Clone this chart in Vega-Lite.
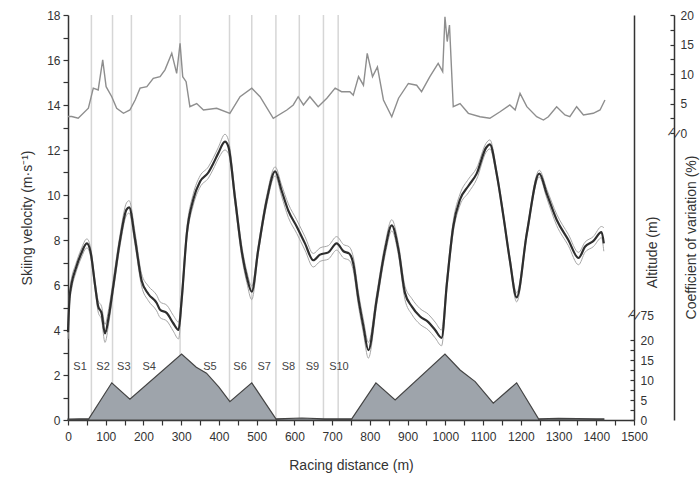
{
  "$schema": "https://vega.github.io/schema/vega-lite/v6.json",
  "autosize": {"type": "none"},
  "padding": {"left": 68, "top": 15, "right": 66, "bottom": 59},
  "width": 566,
  "height": 405,
  "background": "white",
  "config": {
    "view": {"stroke": null},
    "font": "Liberation Sans",
    "axis": {
      "grid": false,
      "domainColor": "#333333",
      "tickColor": "#333333",
      "labelColor": "#333333",
      "titleColor": "#333333",
      "labelFont": "Liberation Sans",
      "titleFont": "Liberation Sans",
      "labelFontSize": 12,
      "titleFontSize": 14,
      "titleFontWeight": "normal",
      "domainWidth": 1.5,
      "tickWidth": 1.2
    }
  },
  "datasets": {
    "velocity": [
      {"m": 0, "mean": 3.9, "upper": 4.2, "lower": 3.6},
      {"m": 4, "mean": 5.4, "upper": 5.7, "lower": 5.1},
      {"m": 10, "mean": 6.1, "upper": 6.35, "lower": 5.85},
      {"m": 20, "mean": 6.7, "upper": 6.9, "lower": 6.5},
      {"m": 35, "mean": 7.4, "upper": 7.6, "lower": 7.2},
      {"m": 50, "mean": 7.85, "upper": 8.05, "lower": 7.65},
      {"m": 60, "mean": 7.45, "upper": 7.65, "lower": 7.25},
      {"m": 72, "mean": 5.95, "upper": 6.15, "lower": 5.75},
      {"m": 80, "mean": 5.05, "upper": 5.3, "lower": 4.8},
      {"m": 89, "mean": 4.75, "upper": 5.05, "lower": 4.45},
      {"m": 98, "mean": 3.85, "upper": 4.25, "lower": 3.45},
      {"m": 108, "mean": 4.6, "upper": 4.95, "lower": 4.3},
      {"m": 120, "mean": 5.95, "upper": 6.25, "lower": 5.7},
      {"m": 138, "mean": 8.0, "upper": 8.25, "lower": 7.75},
      {"m": 155, "mean": 9.35, "upper": 9.65, "lower": 9.1},
      {"m": 162, "mean": 9.45, "upper": 9.75, "lower": 9.2},
      {"m": 178, "mean": 8.0, "upper": 8.3, "lower": 7.75},
      {"m": 195, "mean": 6.2, "upper": 6.5, "lower": 5.95},
      {"m": 213, "mean": 5.6, "upper": 5.95, "lower": 5.3},
      {"m": 235, "mean": 5.2, "upper": 5.55, "lower": 4.85},
      {"m": 244, "mean": 4.9, "upper": 5.25, "lower": 4.55},
      {"m": 262, "mean": 4.75, "upper": 5.1, "lower": 4.4},
      {"m": 279, "mean": 4.3, "upper": 4.65, "lower": 3.95},
      {"m": 293, "mean": 4.0, "upper": 4.35, "lower": 3.6},
      {"m": 301, "mean": 5.3, "upper": 5.6, "lower": 5.0},
      {"m": 315, "mean": 8.3, "upper": 8.55, "lower": 8.05},
      {"m": 332, "mean": 9.8, "upper": 10.05, "lower": 9.55},
      {"m": 350, "mean": 10.6, "upper": 10.85, "lower": 10.35},
      {"m": 372, "mean": 11.0, "upper": 11.25, "lower": 10.75},
      {"m": 385, "mean": 11.4, "upper": 11.65, "lower": 11.15},
      {"m": 398, "mean": 11.85, "upper": 12.1, "lower": 11.6},
      {"m": 416, "mean": 12.37, "upper": 12.7, "lower": 12.0},
      {"m": 425, "mean": 12.15, "upper": 12.45, "lower": 11.85},
      {"m": 443, "mean": 9.8, "upper": 10.05, "lower": 9.55},
      {"m": 460, "mean": 7.55, "upper": 7.8, "lower": 7.3},
      {"m": 474, "mean": 6.35, "upper": 6.6, "lower": 6.1},
      {"m": 487, "mean": 5.7, "upper": 5.95, "lower": 5.35},
      {"m": 504, "mean": 7.55, "upper": 7.75, "lower": 7.35},
      {"m": 527, "mean": 9.8, "upper": 10.0, "lower": 9.6},
      {"m": 549, "mean": 11.05, "upper": 11.25, "lower": 10.85},
      {"m": 566, "mean": 10.2, "upper": 10.45, "lower": 9.95},
      {"m": 584, "mean": 9.3, "upper": 9.6, "lower": 9.0},
      {"m": 606, "mean": 8.6, "upper": 8.9, "lower": 8.3},
      {"m": 628, "mean": 7.85, "upper": 8.15, "lower": 7.55},
      {"m": 650, "mean": 7.1, "upper": 7.4, "lower": 6.8},
      {"m": 668, "mean": 7.35, "upper": 7.65, "lower": 7.05},
      {"m": 690, "mean": 7.45, "upper": 7.75, "lower": 7.15},
      {"m": 712, "mean": 7.85, "upper": 8.15, "lower": 7.55},
      {"m": 730, "mean": 7.5, "upper": 7.8, "lower": 7.2},
      {"m": 745, "mean": 7.4, "upper": 7.7, "lower": 7.1},
      {"m": 756, "mean": 6.95, "upper": 7.25, "lower": 6.65},
      {"m": 770, "mean": 5.35, "upper": 5.65, "lower": 5.05},
      {"m": 783, "mean": 4.15, "upper": 4.45, "lower": 3.85},
      {"m": 796, "mean": 3.1, "upper": 3.45, "lower": 2.75},
      {"m": 818, "mean": 5.35, "upper": 5.6, "lower": 5.1},
      {"m": 840, "mean": 7.55, "upper": 7.8, "lower": 7.3},
      {"m": 858, "mean": 8.65, "upper": 8.9, "lower": 8.4},
      {"m": 876, "mean": 7.55, "upper": 7.8, "lower": 7.3},
      {"m": 893, "mean": 5.65, "upper": 5.95, "lower": 5.35},
      {"m": 911, "mean": 5.05, "upper": 5.4, "lower": 4.7},
      {"m": 933, "mean": 4.6, "upper": 4.95, "lower": 4.25},
      {"m": 955, "mean": 4.35, "upper": 4.7, "lower": 4.0},
      {"m": 973, "mean": 4.0, "upper": 4.35, "lower": 3.65},
      {"m": 990, "mean": 3.65, "upper": 4.0, "lower": 3.3},
      {"m": 1004, "mean": 6.05, "upper": 6.3, "lower": 5.8},
      {"m": 1021, "mean": 8.6, "upper": 8.85, "lower": 8.35},
      {"m": 1039, "mean": 9.8, "upper": 10.05, "lower": 9.55},
      {"m": 1061, "mean": 10.4, "upper": 10.7, "lower": 10.1},
      {"m": 1083, "mean": 10.95, "upper": 11.2, "lower": 10.7},
      {"m": 1108, "mean": 12.1, "upper": 12.3, "lower": 11.9},
      {"m": 1118, "mean": 12.25, "upper": 12.45, "lower": 12.05},
      {"m": 1136, "mean": 10.95, "upper": 11.1, "lower": 10.8},
      {"m": 1154, "mean": 9.05, "upper": 9.2, "lower": 8.9},
      {"m": 1171, "mean": 7.1, "upper": 7.25, "lower": 6.95},
      {"m": 1189, "mean": 5.45, "upper": 5.65, "lower": 5.25},
      {"m": 1216, "mean": 8.3, "upper": 8.45, "lower": 8.15},
      {"m": 1249, "mean": 10.95, "upper": 11.1, "lower": 10.8},
      {"m": 1269, "mean": 10.05, "upper": 10.25, "lower": 9.85},
      {"m": 1295, "mean": 8.9, "upper": 9.15, "lower": 8.65},
      {"m": 1326, "mean": 8.0, "upper": 8.25, "lower": 7.75},
      {"m": 1353, "mean": 7.2, "upper": 7.45, "lower": 6.9},
      {"m": 1370, "mean": 7.7, "upper": 7.9, "lower": 7.45},
      {"m": 1392, "mean": 7.95, "upper": 8.15, "lower": 7.7},
      {"m": 1414, "mean": 8.35, "upper": 8.6, "lower": 8.1},
      {"m": 1420, "mean": 7.85, "upper": 8.55, "lower": 7.5}
    ],
    "cov": [
      {"m": 0, "cov": 2.8}, {"m": 10, "cov": 2.8}, {"m": 27, "cov": 2.5},
      {"m": 54, "cov": 4.2}, {"m": 67, "cov": 7.6}, {"m": 80, "cov": 7.3},
      {"m": 92, "cov": 12.4}, {"m": 101, "cov": 7.85}, {"m": 116, "cov": 6.15},
      {"m": 129, "cov": 4.2}, {"m": 147, "cov": 3.34}, {"m": 164, "cov": 3.9},
      {"m": 178, "cov": 5.6}, {"m": 191, "cov": 7.6}, {"m": 209, "cov": 7.85},
      {"m": 226, "cov": 9.27}, {"m": 244, "cov": 9.55}, {"m": 257, "cov": 10.7},
      {"m": 275, "cov": 13.5}, {"m": 288, "cov": 10.1}, {"m": 297, "cov": 15.2},
      {"m": 304, "cov": 9.55}, {"m": 313, "cov": 8.7}, {"m": 323, "cov": 4.46},
      {"m": 341, "cov": 5.0}, {"m": 359, "cov": 3.9}, {"m": 394, "cov": 4.2},
      {"m": 429, "cov": 3.34}, {"m": 456, "cov": 6.15}, {"m": 487, "cov": 7.6},
      {"m": 509, "cov": 6.15}, {"m": 544, "cov": 2.5}, {"m": 580, "cov": 3.9},
      {"m": 597, "cov": 4.75}, {"m": 610, "cov": 6.15}, {"m": 624, "cov": 4.75},
      {"m": 641, "cov": 6.15}, {"m": 663, "cov": 4.46}, {"m": 686, "cov": 5.9},
      {"m": 708, "cov": 7.6}, {"m": 725, "cov": 7.0}, {"m": 747, "cov": 7.0},
      {"m": 756, "cov": 6.4}, {"m": 770, "cov": 9.55}, {"m": 783, "cov": 8.1},
      {"m": 793, "cov": 13.5}, {"m": 807, "cov": 9.55}, {"m": 820, "cov": 11.2},
      {"m": 836, "cov": 5.6}, {"m": 858, "cov": 2.76}, {"m": 876, "cov": 5.9},
      {"m": 902, "cov": 8.4}, {"m": 924, "cov": 8.1}, {"m": 937, "cov": 7.0},
      {"m": 959, "cov": 9.55}, {"m": 981, "cov": 11.8}, {"m": 993, "cov": 10.4},
      {"m": 999, "cov": 19.7}, {"m": 1005, "cov": 15.5}, {"m": 1011, "cov": 18.3},
      {"m": 1021, "cov": 4.46}, {"m": 1039, "cov": 5.0}, {"m": 1061, "cov": 3.34},
      {"m": 1092, "cov": 2.76}, {"m": 1118, "cov": 2.5}, {"m": 1145, "cov": 3.6},
      {"m": 1171, "cov": 4.75}, {"m": 1185, "cov": 3.9}, {"m": 1198, "cov": 6.7},
      {"m": 1216, "cov": 4.46}, {"m": 1242, "cov": 2.76}, {"m": 1260, "cov": 2.2},
      {"m": 1273, "cov": 2.76}, {"m": 1295, "cov": 4.46}, {"m": 1317, "cov": 3.05},
      {"m": 1330, "cov": 2.76}, {"m": 1348, "cov": 4.46}, {"m": 1366, "cov": 3.05},
      {"m": 1392, "cov": 3.34}, {"m": 1410, "cov": 3.9}, {"m": 1423, "cov": 5.6}
    ],
    "altitude": [
      {"m": 0, "alt": 0.2}, {"m": 30, "alt": 0.3}, {"m": 55, "alt": 0.3},
      {"m": 116, "alt": 9.3}, {"m": 164, "alt": 5.2}, {"m": 301, "alt": 16.5},
      {"m": 340, "alt": 13.2}, {"m": 367, "alt": 11.7}, {"m": 400, "alt": 8.2},
      {"m": 429, "alt": 4.6}, {"m": 487, "alt": 9.3}, {"m": 551, "alt": 0.3},
      {"m": 620, "alt": 0.5}, {"m": 680, "alt": 0.3}, {"m": 752, "alt": 0.3},
      {"m": 816, "alt": 9.3}, {"m": 867, "alt": 5.0}, {"m": 999, "alt": 16.5},
      {"m": 1039, "alt": 12.5}, {"m": 1079, "alt": 9.6}, {"m": 1127, "alt": 4.2},
      {"m": 1189, "alt": 9.3}, {"m": 1247, "alt": 0.3}, {"m": 1300, "alt": 0.4},
      {"m": 1400, "alt": 0.3}, {"m": 1420, "alt": 0.3}
    ],
    "segments": [
      {"m": 62}, {"m": 118}, {"m": 168}, {"m": 297}, {"m": 428},
      {"m": 487}, {"m": 551}, {"m": 613}, {"m": 677}, {"m": 716}
    ],
    "labels": [
      {"m": 32, "label": "S1"}, {"m": 93, "label": "S2"}, {"m": 148, "label": "S3"},
      {"m": 215, "label": "S4"}, {"m": 376, "label": "S5"}, {"m": 456, "label": "S6"},
      {"m": 520, "label": "S7"}, {"m": 584, "label": "S8"}, {"m": 648, "label": "S9"},
      {"m": 718, "label": "S10"}
    ],
    "breaks": [
      {"m": 1500, "v": 4.67},
      {"m": 1606, "v": 12.76}
    ]
  },
  "encoding": {
    "x": {
      "field": "m",
      "type": "quantitative",
      "scale": {"domain": [0, 1500], "nice": false, "zero": false},
      "axis": {
        "title": "Racing distance (m)",
        "values": [0, 50, 100, 150, 200, 250, 300, 350, 400, 450, 500, 550, 600, 650, 700, 750, 800, 850, 900, 950, 1000, 1050, 1100, 1150, 1200, 1250, 1300, 1350, 1400, 1450, 1500],
        "labelExpr": "datum.value % 100 == 0 ? format(datum.value, 'd') : ''",
        "tickSize": 5,
        "labelPadding": 6,
        "titlePadding": 16,
        "labelFlush": false,
        "labelOverlap": false
      }
    }
  },
  "layer": [
    {
      "data": {"name": "segments"},
      "mark": {"type": "rule", "color": "#d6d6d6", "strokeWidth": 1.5},
      "encoding": {}
    },
    {
      "data": {"name": "altitude"},
      "mark": {"type": "area", "fill": "#9ea4ab", "stroke": "#444444", "strokeWidth": 1.2, "interpolate": "linear"},
      "encoding": {
        "y": {
          "field": "alt",
          "type": "quantitative",
          "scale": {"domain": [0, 101.25], "nice": false, "zero": false},
          "axis": {
            "orient": "right",
            "title": "Altitude (m)",
            "titleAngle": 270,
            "titleX": 18,
            "titleY": 237,
            "titleAlign": "center",
            "titleBaseline": "middle",
            "values": [0, 2.5, 5, 7.5, 10, 12.5, 15, 17.5, 20, 26.25],
            "labelExpr": "datum.value > 21 ? '75' : (datum.value % 5 == 0 ? format(datum.value, 'd') : '')",
            "tickSize": -4,
            "labelPadding": 10,
            "labelFlush": false,
            "labelOverlap": false
          }
        }
      }
    },
    {
      "data": {"name": "velocity"},
      "mark": {"type": "line", "color": "#a6a6a6", "strokeWidth": 1, "interpolate": "monotone"},
      "encoding": {
        "y": {"field": "upper", "type": "quantitative", "scale": {"domain": [0, 18], "nice": false, "zero": false}, "axis": null}
      }
    },
    {
      "data": {"name": "velocity"},
      "mark": {"type": "line", "color": "#a6a6a6", "strokeWidth": 1, "interpolate": "monotone"},
      "encoding": {
        "y": {"field": "lower", "type": "quantitative", "scale": {"domain": [0, 18], "nice": false, "zero": false}, "axis": null}
      }
    },
    {
      "data": {"name": "velocity"},
      "mark": {"type": "line", "color": "#2e2e2e", "strokeWidth": 2.2, "interpolate": "monotone"},
      "encoding": {
        "y": {
          "field": "mean",
          "type": "quantitative",
          "scale": {"domain": [0, 18], "nice": false, "zero": false},
          "axis": {
            "orient": "left",
            "title": "Skiing velocity (m·s⁻¹)",
            "values": [0, 1, 2, 3, 4, 5, 6, 7, 8, 9, 10, 11, 12, 13, 14, 15, 16, 17, 18],
            "labelExpr": "datum.value % 2 == 0 ? format(datum.value, 'd') : ''",
            "tickSize": 5,
            "labelPadding": 3,
            "titlePadding": 12,
            "labelFlush": false,
            "labelOverlap": false
          }
        }
      }
    },
    {
      "data": {"name": "cov"},
      "mark": {"type": "line", "color": "#8e8e8e", "strokeWidth": 1.4},
      "encoding": {
        "y": {
          "field": "cov",
          "type": "quantitative",
          "scale": {"domain": [-48.64, 20], "nice": false, "zero": false},
          "axis": {
            "orient": "right",
            "offset": 40,
            "title": "Coefficient of variation (%)",
            "titleAngle": 270,
            "titleX": 17,
            "titleY": 222,
            "titleAlign": "center",
            "titleBaseline": "middle",
            "values": [0, 2.5, 5, 7.5, 10, 12.5, 15, 17.5, 20],
            "labelExpr": "datum.value % 5 == 0 ? format(datum.value, 'd') : ''",
            "tickSize": -4,
            "labelPadding": 10,
            "labelFlush": false,
            "labelOverlap": false
          }
        }
      }
    },
    {
      "data": {"name": "labels"},
      "mark": {"type": "text", "fontSize": 11, "color": "#444444", "baseline": "middle", "align": "center"},
      "encoding": {
        "y": {"datum": 2.35, "type": "quantitative", "scale": {"domain": [0, 18], "nice": false, "zero": false}, "axis": null},
        "text": {"field": "label"}
      }
    },
    {
      "data": {"name": "breaks"},
      "mark": {"type": "text", "text": "/ /", "fontSize": 12, "color": "#333333", "baseline": "middle", "align": "center", "angle": 20},
      "encoding": {
        "y": {"field": "v", "type": "quantitative", "scale": {"domain": [0, 18], "nice": false, "zero": false}, "axis": null}
      }
    }
  ],
  "resolve": {"scale": {"y": "independent"}, "axis": {"y": "independent"}}
}
